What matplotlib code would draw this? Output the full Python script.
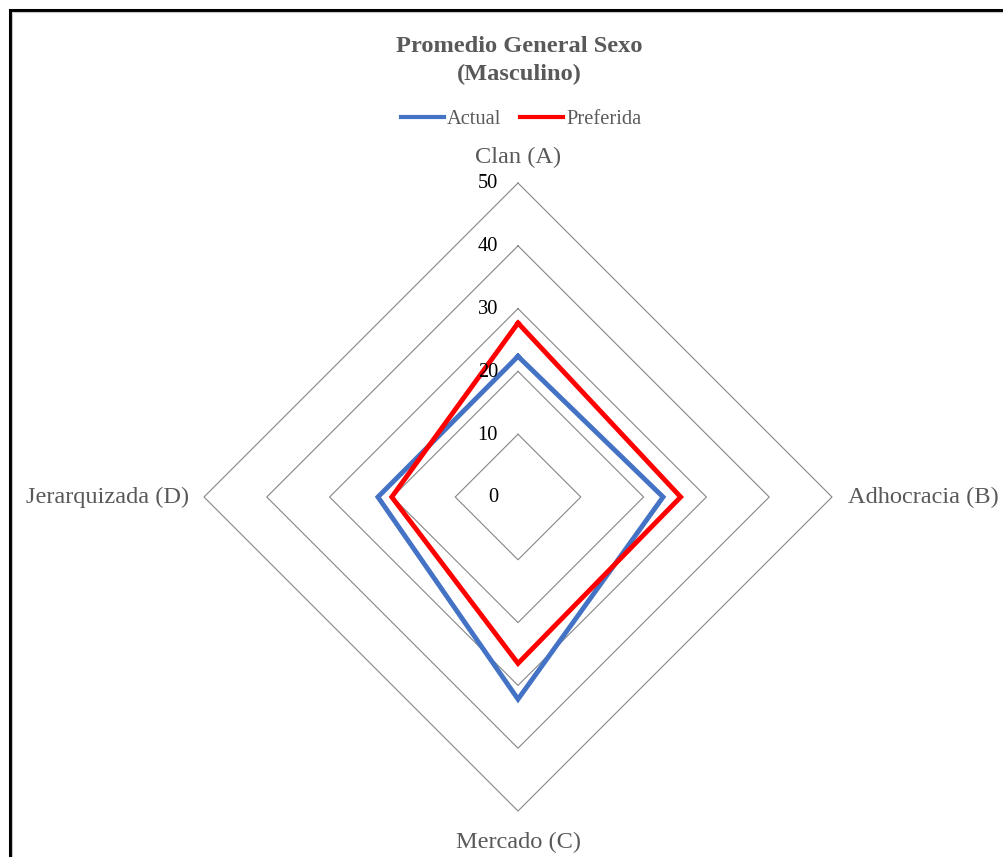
import numpy as np
import matplotlib
matplotlib.use("Agg")
import matplotlib.pyplot as plt
from matplotlib.patches import Rectangle
from matplotlib.lines import Line2D

# Data
categories = ["Clan (A)", "Adhocracia (B)", "Mercado (C)", "Jerarquizada (D)"]
actual = [22.4, 23.1, 32.2, 22.3]
preferida = [27.7, 25.9, 26.5, 20.1]
series_names = ["Actual", "Preferida"]
ring_values = [10, 20, 30, 40, 50]
tick_labels = ["0", "10", "20", "30", "40", "50"]
r_max = 50

# Styling
blue = "#4472C4"
red = "#FF0000"
text_gray = "#595959"
grid_gray = "#868686"
serif = ["Liberation Serif", "DejaVu Serif"]

W, H, DPI = 1004, 857, 100
fig = plt.figure(figsize=(W / DPI, H / DPI), dpi=DPI)
fig.patch.set_facecolor("white")

# Radar area: centre (518, 497) px, radius 314 px
cx, cy, rad = 518, 497, 314
ax = fig.add_axes([(cx - rad) / W, (H - cy - rad) / H, 2 * rad / W, 2 * rad / H],
                  projection="polar")
ax.set_theta_offset(np.pi / 2)
ax.set_theta_direction(-1)
ax.set_ylim(0, r_max)
ax.set_xticks([])
ax.set_yticks([])
ax.grid(False)
ax.spines["polar"].set_visible(False)
ax.patch.set_alpha(0)

n = len(categories)
angles = np.arange(n) * 2 * np.pi / n
closed = np.append(angles, angles[0])

# Diamond gridlines
for r in ring_values:
    ax.plot(closed, [r] * (n + 1), color=grid_gray, lw=0.8, zorder=1, clip_on=False)

# Series
for vals, col in [(actual, blue), (preferida, red)]:
    ax.plot(closed, list(vals) + [vals[0]], color=col, lw=3.5, zorder=3,
            clip_on=False, solid_joinstyle="miter")

# Value labels along the top axis
for i, lab in enumerate(tick_labels):
    r = i * 10
    ax.annotate(lab, xy=(0, r), xytext=(-20, -1), textcoords="offset pixels",
                ha="right", va="center", fontsize=14.7, family=serif,
                color="black", annotation_clip=False)

# Category labels
ax.text(angles[0], 54.0, categories[0], ha="center", va="center",
        fontsize=17.6, family=serif, color=text_gray)
ax.text(angles[1], 52.5, categories[1], ha="left", va="center",
        fontsize=17.6, family=serif, color=text_gray)
ax.text(angles[2], 55.0, categories[2], ha="center", va="center",
        fontsize=17.6, family=serif, color=text_gray)
ax.text(angles[3], 52.3, categories[3], ha="right", va="center",
        fontsize=17.6, family=serif, color=text_gray)

# Title
fig.text(519 / W, 1 - 46 / H, "Promedio General Sexo", ha="center", va="center",
         fontsize=17.6, fontweight="bold", family=serif, color=text_gray)
fig.text(519 / W, 1 - 74 / H, "(Masculino)", ha="center", va="center",
         fontsize=17.6, fontweight="bold", family=serif, color=text_gray)

# Legend
handles = [Line2D([], [], color=blue, lw=3.0), Line2D([], [], color=red, lw=3.0)]
leg = fig.legend(handles, series_names, loc="center", bbox_to_anchor=(521 / W, 1 - 119 / H),
                 ncol=2, frameon=False, handlelength=2.1, handletextpad=0.15,
                 columnspacing=0.9, borderaxespad=0, borderpad=0,
                 prop={"family": serif, "size": 14.8})
for t in leg.get_texts():
    t.set_color(text_gray)

# Chart frame
fig.add_artist(Rectangle((9.5 / W, -0.1), 1.2, 1.1 - 9.5 / H, transform=fig.transFigure,
                         fill=False, edgecolor="black", lw=2.2))
fig.add_artist(Rectangle((12 / W, -0.1), 1.2, 1.1 - 12 / H, transform=fig.transFigure,
                         fill=False, edgecolor="#c8c8c8", lw=0.8))

fig.savefig("out.png", dpi=DPI, facecolor="white")
